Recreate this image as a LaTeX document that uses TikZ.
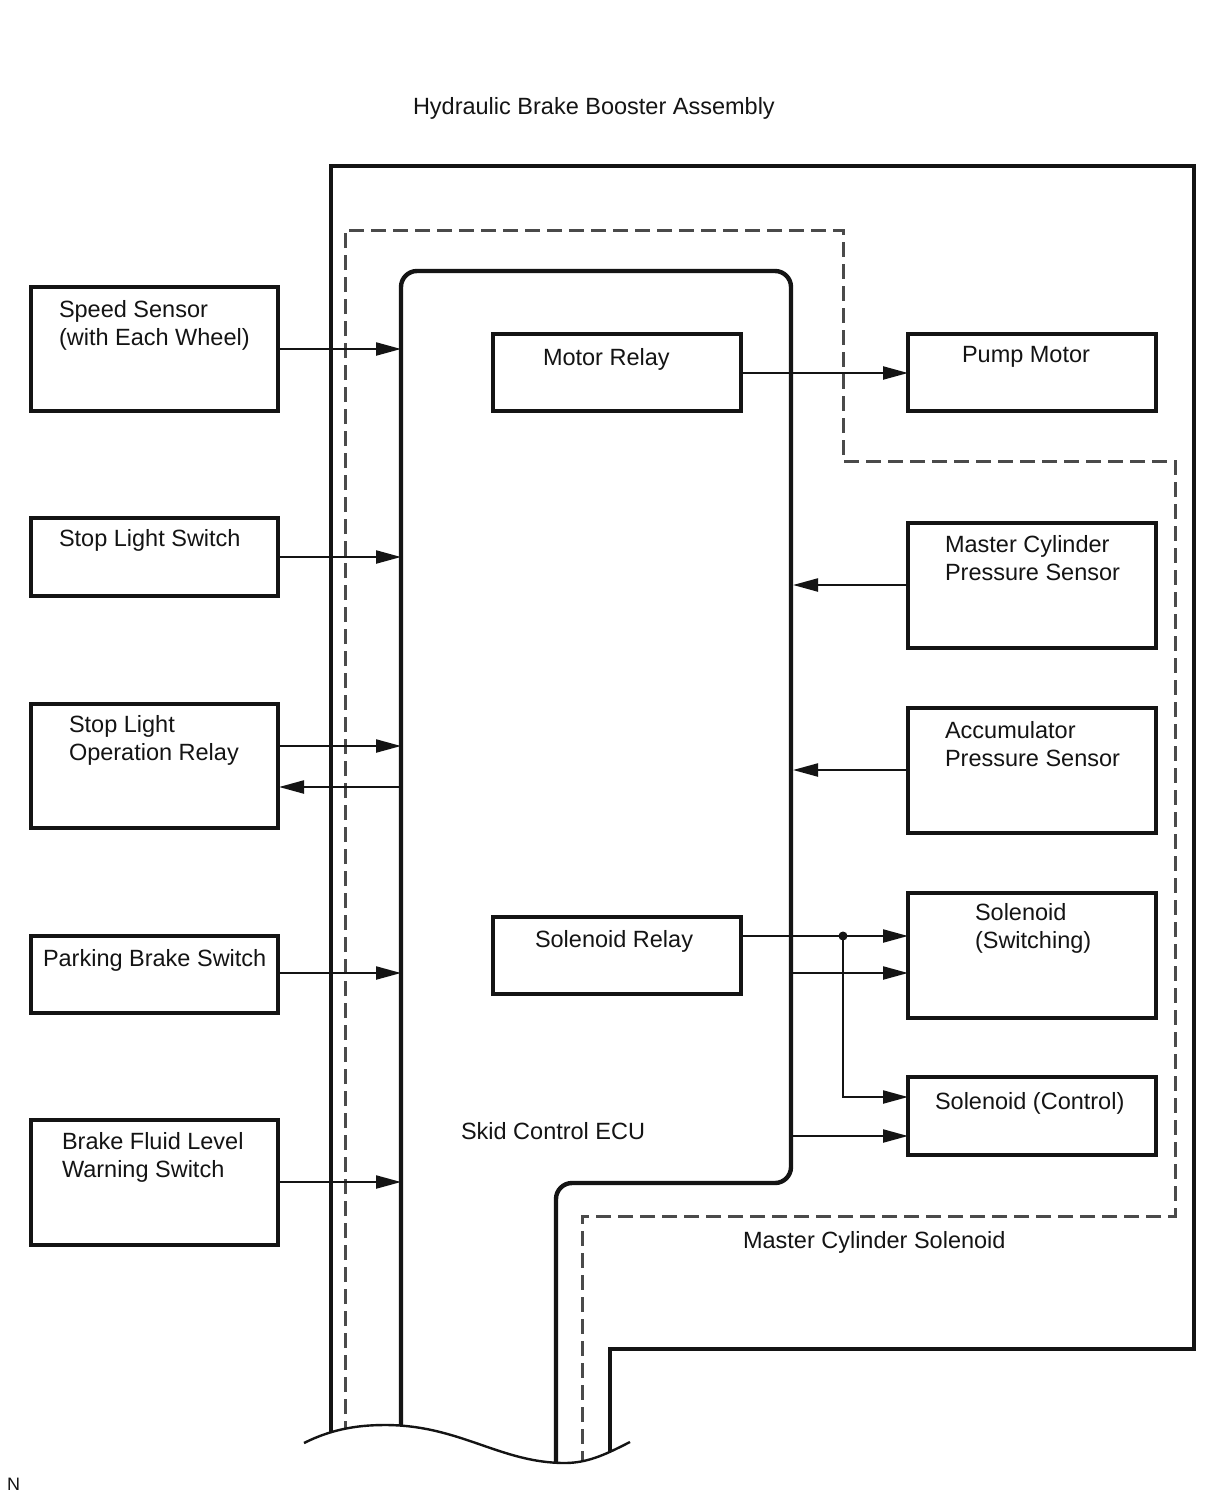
\documentclass[tikz,border=0pt]{standalone}
\usepackage{fontspec}
\setmainfont{Liberation Sans}
\usetikzlibrary{arrows.meta}
\definecolor{ink}{HTML}{141414}
\definecolor{dash}{HTML}{4A4A4A}
\newcommand{\lstrut}{\rule{0pt}{20pt}}
\begin{document}
\begin{tikzpicture}[x=1pt,y=-1pt,
  box/.style={draw=ink,line width=3.4pt,inner sep=0pt,outer sep=0pt},
  lbl/.style={anchor=north west,inner sep=0pt,outer sep=0pt,align=left,text=ink,
    font=\fontsize{23.5}{28.5}\selectfont},
  conn/.style={draw=ink,line width=2.2pt,-{Triangle[length=25pt,width=13pt]}},
  eculine/.style={draw=ink,line width=4.4pt,rounded corners=16pt},
  outerline/.style={draw=ink,line width=3.4pt},
  dashline/.style={draw=dash,line width=3pt,dash pattern=on 15pt off 7pt}
]
\useasboundingbox[fill=white] (0,0) rectangle (1210,1498);

% enclosures, clipped by the wavy break
\begin{scope}
  \clip (0,0) -- (1210,0) -- (1210,1442) -- (630,1442)
     .. controls (610,1452) and (590,1463) .. (565,1463)
     .. controls (500,1463) and (460,1425) .. (385,1425)
     .. controls (355,1425) and (330,1430) .. (304,1443)
     -- (0,1443) -- cycle;
  \draw[outerline] (331,1480) -- (331,166) -- (1194,166) -- (1194,1349) -- (610,1349) -- (610,1480);
  \draw[dashline] (345,1480) -- (345,230) -- (843,230) -- (843,461) -- (1175,461) -- (1175,1216) -- (582,1216) -- (582,1480);
  \draw[eculine] (401,1480) -- (401,271) -- (791,271) -- (791,1183) -- (556,1183) -- (556,1480);
\end{scope}
\draw[draw=ink,line width=2.4pt] (304,1443) .. controls (330,1430) and (355,1425) .. (385,1425)
   .. controls (460,1425) and (500,1463) .. (565,1463)
   .. controls (590,1463) and (610,1452) .. (630,1442);

\coordinate (ecuL) at (401,0);
\coordinate (ecuR) at (791,0);

% left boxes
\node[box,minimum width=247pt,minimum height=124pt] (spd) at (154.5,349) {};
\node[box,minimum width=247pt,minimum height=78pt] (sls) at (154.5,557) {};
\node[box,minimum width=247pt,minimum height=124pt] (slr) at (154.5,766) {};
\node[box,minimum width=247pt,minimum height=77pt] (pbs) at (154.5,974.5) {};
\node[box,minimum width=247pt,minimum height=125pt] (bfl) at (154.5,1182.5) {};

% inner boxes
\node[box,minimum width=248pt,minimum height=77pt] (mrl) at (617,372.5) {};
\node[box,minimum width=248pt,minimum height=77pt] (srl) at (617,955.5) {};

% right boxes
\node[box,minimum width=248pt,minimum height=77pt] (pmp) at (1032,372.5) {};
\node[box,minimum width=248pt,minimum height=125pt] (mcp) at (1032,585.5) {};
\node[box,minimum width=248pt,minimum height=125pt] (acc) at (1032,770.5) {};
\node[box,minimum width=248pt,minimum height=125pt] (ssw) at (1032,955.5) {};
\node[box,minimum width=248pt,minimum height=78pt] (sct) at (1032,1116) {};

% labels
\node[lbl] (t0) at (413,95) {\lstrut Hydraulic Brake Booster Assembly};
\node[lbl] (t1) at (59,297) {\lstrut Speed Sensor\\(with Each Wheel)};
\node[lbl] (t2) at (59,526) {\lstrut Stop Light Switch};
\node[lbl] (t3) at (69,712) {\lstrut Stop Light\\Operation Relay};
\node[lbl] (t4) at (43,946) {\lstrut Parking Brake Switch};
\node[lbl] (t5) at (62,1129) {\lstrut Brake Fluid Level\\Warning Switch};
\node[lbl] (t6) at (543,345) {\lstrut Motor Relay};
\node[lbl] (t7) at (535,927) {\lstrut Solenoid Relay};
\node[lbl] (t8) at (962,342) {\lstrut Pump Motor};
\node[lbl] (t9) at (945,532) {\lstrut Master Cylinder\\Pressure Sensor};
\node[lbl] (t10) at (945,718) {\lstrut Accumulator\\Pressure Sensor};
\node[lbl] (t11) at (975,900) {\lstrut Solenoid\\(Switching)};
\node[lbl] (t12) at (935,1089) {\lstrut Solenoid (Control)};
\node[lbl] (t13) at (461,1119) {\lstrut Skid Control ECU};
\node[lbl] (t14) at (743,1228) {\lstrut Master Cylinder Solenoid};
\node[anchor=base west,inner sep=0pt,text=ink,font=\fontsize{18}{20}\selectfont] (tn) at (7,1490) {N};

% connectors, left side
\draw[conn] (spd.east |- 0,349) -- (ecuL |- 0,349);
\draw[conn] (sls.east |- 0,557) -- (ecuL |- 0,557);
\draw[conn] (slr.east |- 0,746) -- (ecuL |- 0,746);
\draw[conn] (ecuL |- 0,787) -- ([xshift=1pt]slr.east |- 0,787);
\draw[conn] (pbs.east |- 0,973) -- (ecuL |- 0,973);
\draw[conn] (bfl.east |- 0,1182) -- (ecuL |- 0,1182);

% connectors, right side
\draw[conn] (mrl.east |- 0,373) -- (pmp.west |- 0,373);
\draw[conn] (mcp.west |- 0,585) -- ([xshift=2pt]ecuR |- 0,585);
\draw[conn] (acc.west |- 0,770) -- ([xshift=2pt]ecuR |- 0,770);
\coordinate (jn) at (843,936);
\draw[conn] (srl.east |- 0,936) -- (ssw.west |- 0,936);
\fill[ink] (jn) circle (4.5pt);
\draw[conn] (jn) -- (843,1097) -- (sct.west |- 0,1097);
\draw[conn] (ecuR |- 0,973) -- (ssw.west |- 0,973);
\draw[conn] (ecuR |- 0,1136) -- (sct.west |- 0,1136);
\end{tikzpicture}
\end{document}
